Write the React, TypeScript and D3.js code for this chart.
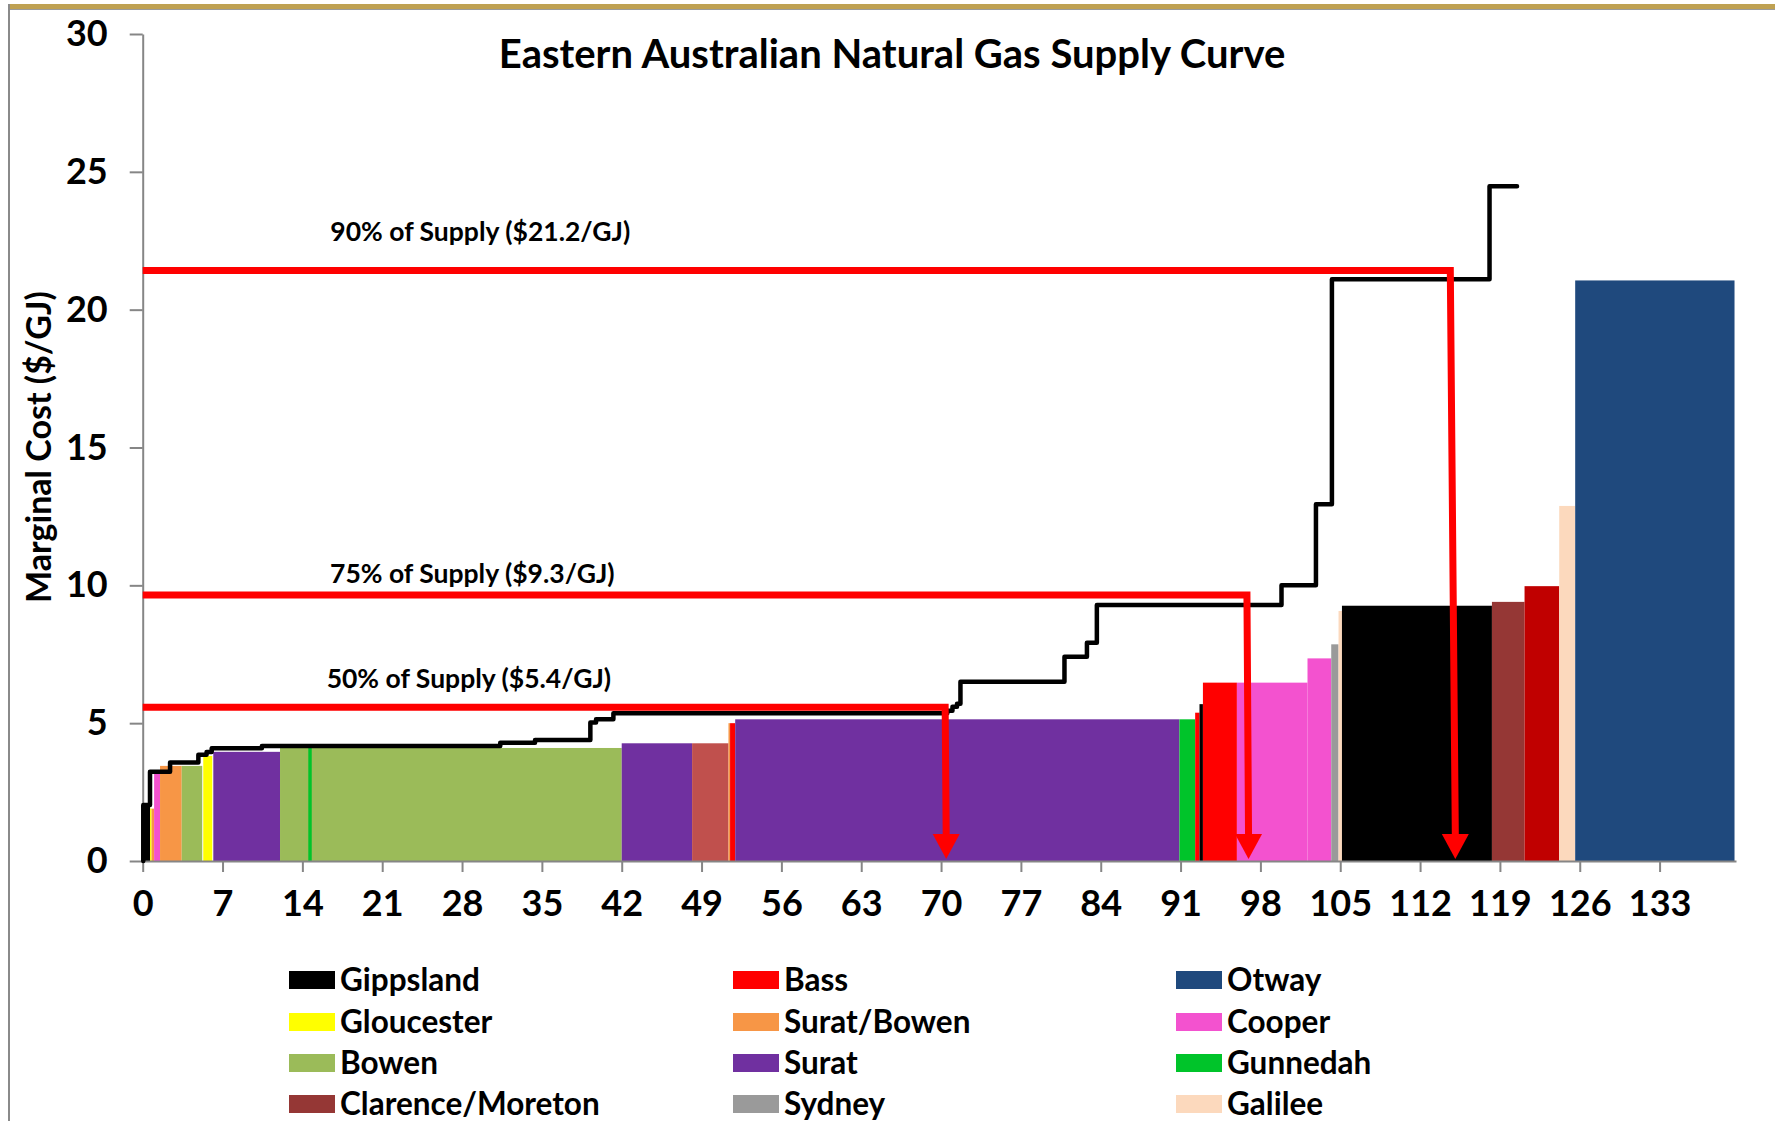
import React, { Component } from 'react';
import * as d3 from 'd3';

// region order as in the Excel legend (row-major, 3 columns)
const regions = [
  'Gippsland', 'Bass', 'Otway',
  'Gloucester', 'Surat/Bowen', 'Cooper',
  'Bowen', 'Surat', 'Gunnedah',
  'Clarence/Moreton', 'Sydney', 'Galilee',
];

const regionColors = {
  'Gippsland': '#000000',
  'Bass': '#ff0000',
  'Otway': '#1f497d',
  'Gloucester': '#ffff00',
  'Surat/Bowen': '#f79646',
  'Cooper': '#f352cf',
  'Bowen': '#9bbb59',
  'Surat': '#7030a0',
  'Gunnedah': '#00c42a',
  'Clarence/Moreton': '#953735',
  'Sydney': '#9a9a9a',
  'Galilee': '#fcd9bd',
  'unlisted-1': '#c0504d',
  'unlisted-2': '#c00000',
};

// supply blocks: [region, start PJ, end PJ, marginal cost $/GJ]
const blocks = [
  ['Gippsland', 0, 0.65, 2.03],
  ['Gloucester', 0.65, 0.78, 1.9],
  ['Surat/Bowen', 0.78, 1.0, 1.9],
  ['Cooper', 1.0, 1.52, 3.19],
  ['Surat/Bowen', 1.52, 3.42, 3.45],
  ['Bowen', 3.42, 5.22, 3.45],
  ['Gloucester', 5.31, 6.1, 3.81],
  ['Surat', 6.19, 12.04, 3.96],
  ['Bowen', 12.04, 42.0, 4.1],
  ['Gunnedah', 14.52, 14.82, 4.1],
  ['Surat', 42.0, 48.17, 4.27],
  ['unlisted-1', 48.17, 51.36, 4.27],
  ['Surat/Bowen', 51.36, 51.5, 5.0],
  ['Bass', 51.5, 51.95, 5.0],
  ['Surat', 51.95, 90.9, 5.14],
  ['Gunnedah', 90.9, 92.28, 5.14],
  ['Bass', 92.28, 92.66, 5.38],
  ['Gippsland', 92.66, 92.96, 5.69],
  ['Bass', 92.96, 95.94, 6.47],
  ['Cooper', 95.94, 102.13, 6.47],
  ['Cooper', 102.13, 104.21, 7.35],
  ['Sydney', 104.21, 104.85, 7.86],
  ['Galilee', 104.85, 105.15, 9.07],
  ['Gippsland', 105.15, 118.3, 9.26],
  ['Clarence/Moreton', 118.3, 121.16, 9.4],
  ['unlisted-2', 121.16, 124.2, 9.97],
  ['Galilee', 124.2, 125.6, 12.88],
  ['Otway', 125.6, 139.57, 21.06],
];

// cumulative supply curve (step after)
const curve = [
  [0.05, 0], [0.05, 2.03], [0.64, 3.24], [2.4, 3.57], [4.88, 3.85],
  [5.6, 3.95], [6.05, 4.09], [10.45, 4.17], [31.35, 4.29], [34.4, 4.39],
  [39.25, 5.02], [39.75, 5.14], [41.27, 5.36], [70.55, 5.45], [71.0, 5.6],
  [71.4, 5.7], [71.7, 6.5], [80.82, 7.41], [82.79, 7.92], [83.66, 9.29],
  [99.85, 10.0], [102.87, 12.94], [104.27, 21.1], [118.09, 24.48], [120.5, 24.48],
];

// percentile markers: cost level, quantity at corner, quantity at arrow tip, label centre
const marks = [
  { label: '50% of Supply ($5.4/GJ)', cost: 5.58, qty: 70.36, tip: 70.45, lx: 28.6, ly: 6.6 },
  { label: '75% of Supply ($9.3/GJ)', cost: 9.65, qty: 96.82, tip: 96.96, lx: 28.9, ly: 10.41 },
  { label: '90% of Supply ($21.2/GJ)', cost: 21.42, qty: 114.65, tip: 115.09, lx: 29.6, ly: 22.83 },
];

const xTicks = d3.range(0, 134, 7);
const yTicks = [0, 5, 10, 15, 20, 25, 30];

const FONT = 'Lato, "Open Sans", sans-serif';

class App extends Component {
  constructor(props) {
    super(props);
    this.myRef = React.createRef();
    this.width = 1775;
    this.height = 1121;
  }

  componentDidMount() {
    let root = d3.select(this.myRef.current);
    root.selectAll('*').remove();

    let svg = root.append('svg')
      .attr('width', this.width)
      .attr('height', this.height)
      .style('display', 'block')
      .style('font-family', FONT);

    svg.append('rect').attr('width', this.width).attr('height', this.height).attr('fill', '#fff');

    // chart frame: gold rule on top, grey border left
    svg.append('rect').attr('x', 9).attr('y', 4).attr('width', this.width - 9).attr('height', 5).attr('fill', '#bfa152');
    svg.append('line').attr('x1', 9).attr('x2', this.width).attr('y1', 9.5).attr('y2', 9.5)
      .attr('stroke', '#9a9a9a').attr('stroke-width', 1);
    svg.append('line').attr('x1', 9).attr('x2', 9).attr('y1', 4).attr('y2', this.height)
      .attr('stroke', '#8a8a8a').attr('stroke-width', 2);

    let x = d3.scaleLinear().domain([0, 139.7]).range([142.7, 1736]);
    let y = d3.scaleLinear().domain([0, 30]).range([861, 34]);

    // blocks
    svg.append('g').selectAll('rect')
      .data(blocks)
      .enter().append('rect')
      .attr('x', d => x(d[1]))
      .attr('width', d => x(d[2]) - x(d[1]))
      .attr('y', d => y(d[3]))
      .attr('height', d => y(0) - y(d[3]))
      .attr('fill', d => regionColors[d[0]]);

    // axes
    let yAxis = svg.append('g')
      .attr('transform', 'translate(' + x(0) + ',0)')
      .call(d3.axisLeft(y).tickValues(yTicks).tickSize(13).tickPadding(22).tickSizeOuter(0));
    let xAxis = svg.append('g')
      .attr('transform', 'translate(0,' + y(0) + ')')
      .call(d3.axisBottom(x).tickValues(xTicks).tickSize(11).tickPadding(18).tickSizeOuter(0));

    [yAxis, xAxis].forEach(a => {
      a.select('.domain').attr('stroke', '#868686').attr('stroke-width', 2);
      a.selectAll('.tick line').attr('stroke', '#868686').attr('stroke-width', 2);
      a.selectAll('.tick text')
        .attr('fill', '#000')
        .style('font-family', FONT)
        .style('font-weight', 700)
        .style('font-size', '36px');
    });

    // supply curve
    let line = d3.line()
      .x(d => x(d[0]))
      .y(d => y(d[1]))
      .curve(d3.curveStepAfter);

    svg.append('path')
      .datum(curve)
      .attr('fill', 'none')
      .attr('stroke', '#000')
      .attr('stroke-width', 4.5)
      .attr('stroke-linejoin', 'round')
      .attr('stroke-linecap', 'round')
      .attr('d', line);

    // percentile markers
    let mg = svg.append('g');
    marks.forEach(m => {
      let tipY = y(0) - 2;
      let headH = 25;
      let headW = 27;
      mg.append('path')
        .attr('d', 'M' + x(0) + ',' + y(m.cost) + 'L' + x(m.qty) + ',' + y(m.cost) +
          'L' + x(m.tip) + ',' + (tipY - headH + 2))
        .attr('fill', 'none')
        .attr('stroke', '#ff0000')
        .attr('stroke-width', 7)
        .attr('stroke-linejoin', 'miter');
      mg.append('path')
        .attr('d', 'M' + (x(m.tip) - headW / 2) + ',' + (tipY - headH) +
          'L' + (x(m.tip) + headW / 2) + ',' + (tipY - headH) +
          'L' + x(m.tip) + ',' + tipY + 'Z')
        .attr('fill', '#ff0000');
      mg.append('text')
        .attr('x', x(m.lx))
        .attr('y', y(m.ly))
        .attr('dy', '0.35em')
        .attr('text-anchor', 'middle')
        .style('font-weight', 700)
        .style('font-size', '26.5px')
        .text(m.label);
    });

    // title
    svg.append('text')
      .attr('x', 892)
      .attr('y', 54)
      .attr('dy', '0.35em')
      .attr('text-anchor', 'middle')
      .style('font-weight', 700)
      .style('font-size', '40px')
      .text('Eastern Australian Natural Gas Supply Curve');

    // y axis title
    svg.append('text')
      .attr('transform', 'translate(39,447) rotate(-90)')
      .attr('dy', '0.35em')
      .attr('text-anchor', 'middle')
      .style('font-weight', 700)
      .style('font-size', '34px')
      .text('Marginal Cost ($/GJ)');

    // legend
    let colX = [289, 733, 1176];
    let rowY = [980, 1022, 1063, 1104];
    let lg = svg.append('g');
    regions.forEach((r, i) => {
      let cx = colX[i % 3];
      let cy = rowY[Math.floor(i / 3)];
      lg.append('rect')
        .attr('x', cx).attr('y', cy - 9)
        .attr('width', 46).attr('height', 18)
        .attr('fill', regionColors[r]);
      lg.append('text')
        .attr('x', cx + 51).attr('y', cy)
        .attr('dy', '0.35em')
        .style('font-weight', 700)
        .style('font-size', '31.5px')
        .text(r);
    });
  }

  render() {
    return (
      <div ref={this.myRef}
           style={{position: 'absolute', left: 0, top: 0, width: this.width, height: this.height}}>
      </div>
    );
  }
}

export default App;
